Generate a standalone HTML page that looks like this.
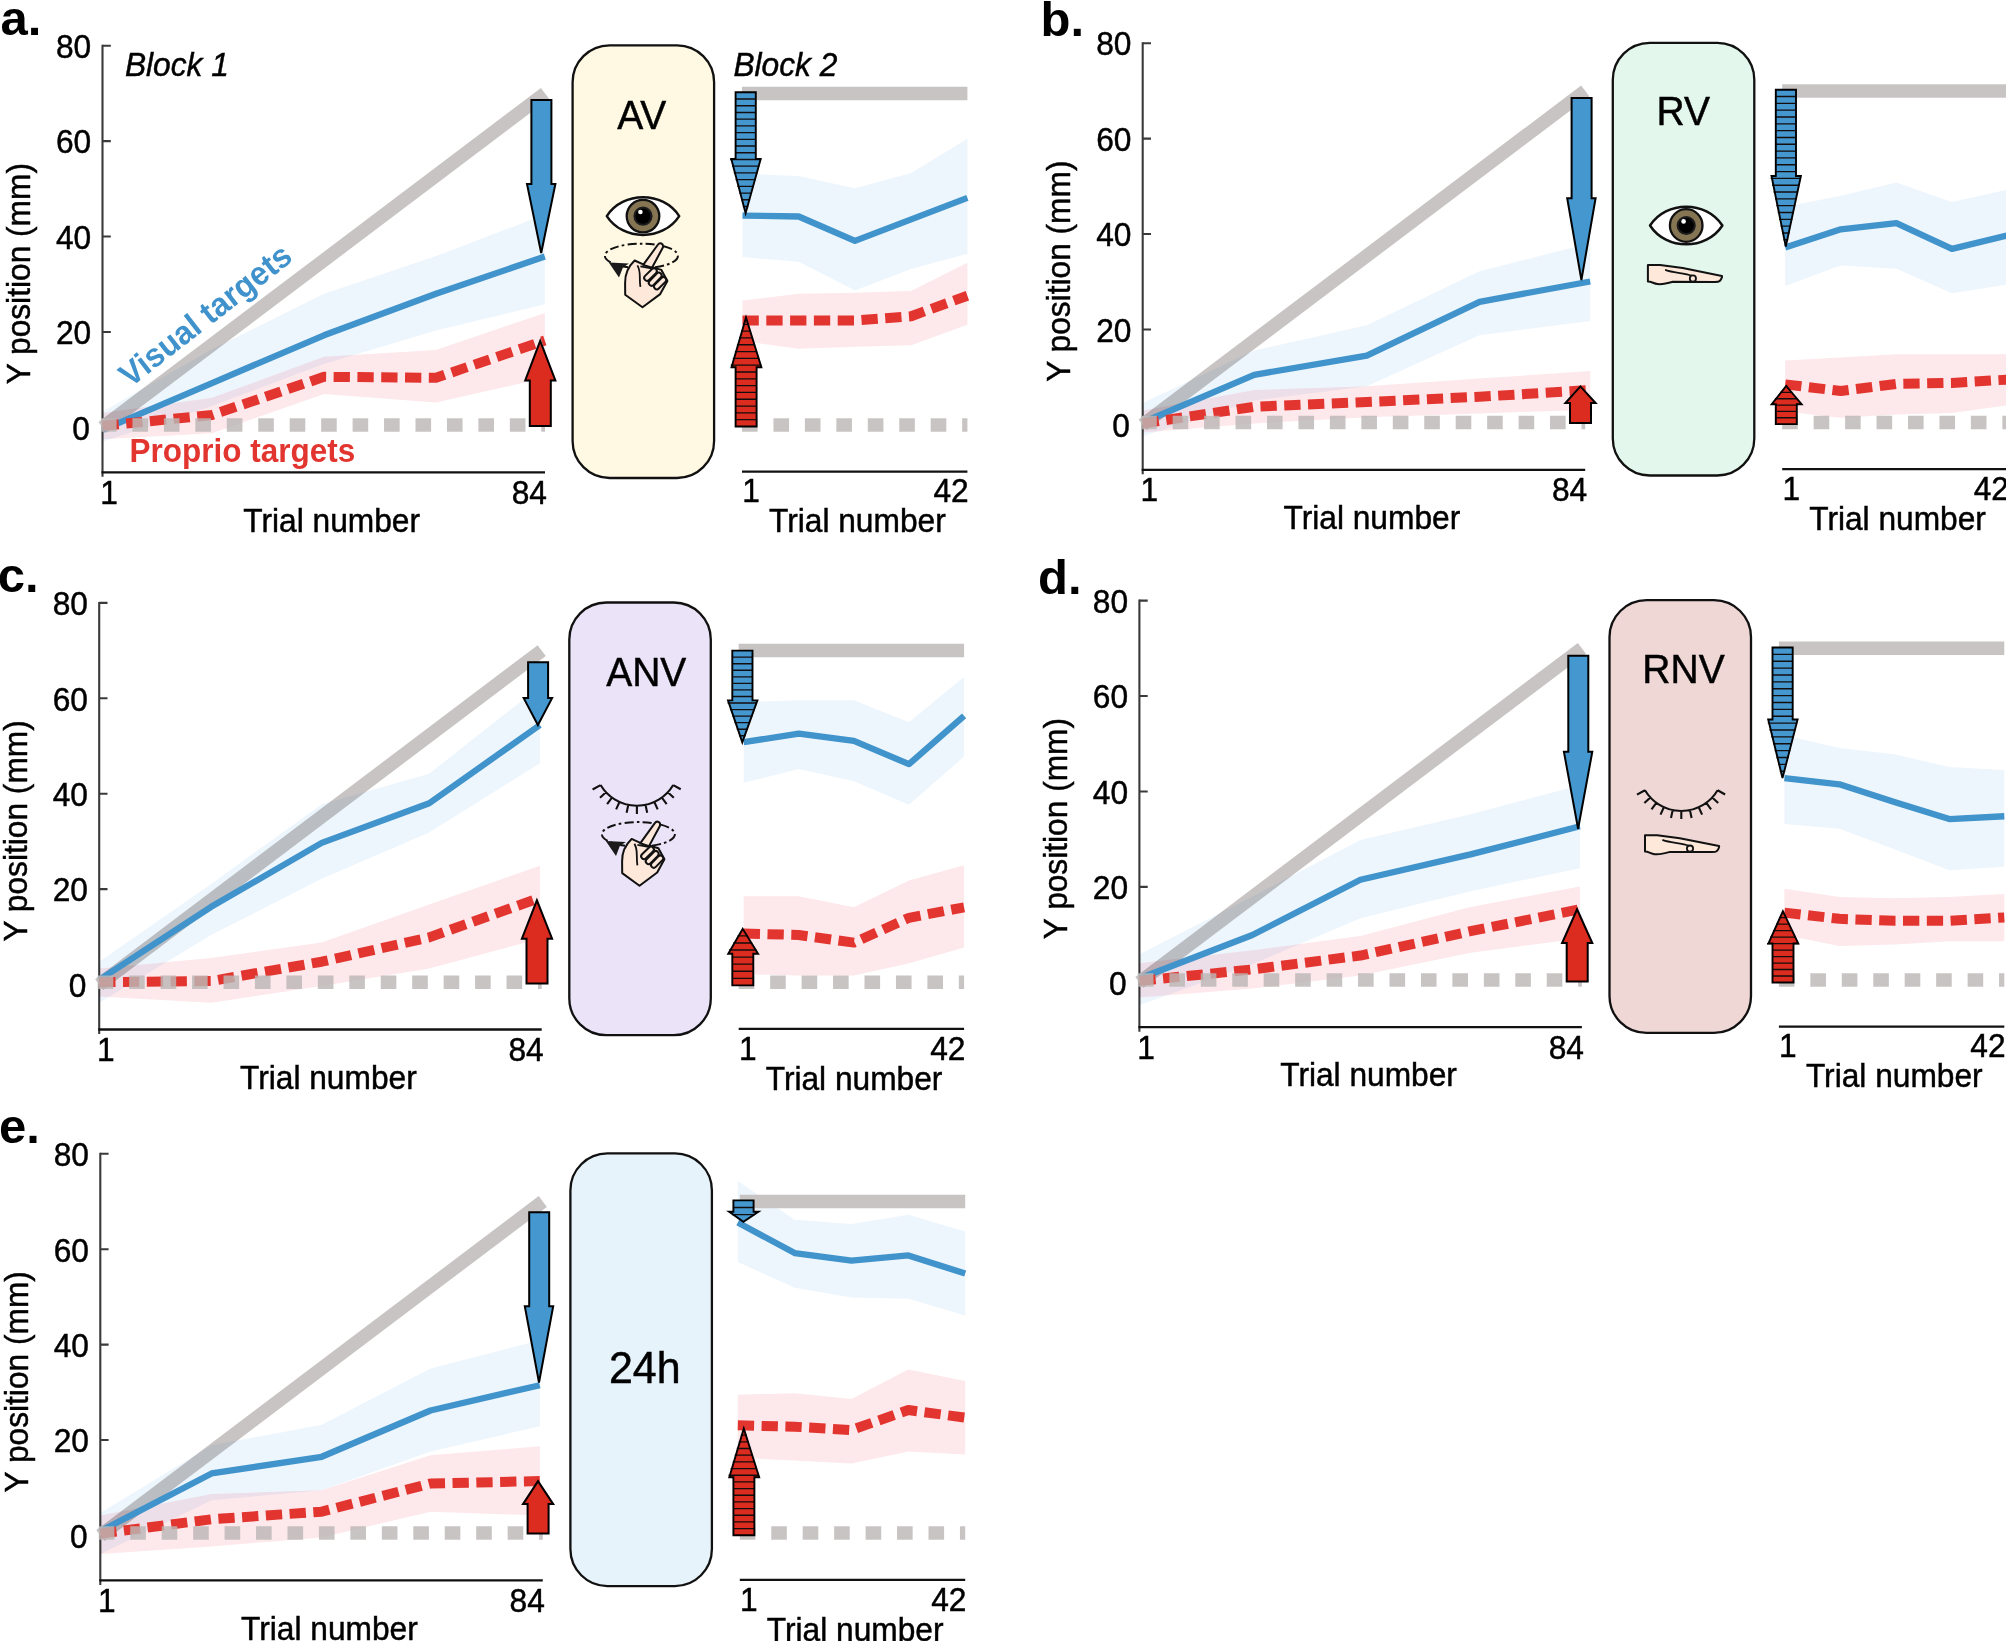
<!DOCTYPE html>
<html><head><meta charset="utf-8"><title>Figure</title>
<style>html,body{margin:0;padding:0;background:#fff;width:2006px;height:1641px;overflow:hidden}svg{display:block}text{font-family:'Liberation Sans', Arial, Helvetica, sans-serif;fill:#000}.t{stroke:#000;stroke-width:0.45px}</style>
</head><body>
<svg width="2006" height="1641" viewBox="0 0 2006 1641" style="isolation:isolate">
<rect width="2006" height="1641" fill="#fff"/>
<g transform="translate(0,0)">
<path d="M102.5,44.68 V476.8" stroke="#3a3a3a" stroke-width="2.1" fill="none"/>
<path d="M101.5,472.3 H545" stroke="#111111" stroke-width="2.3" fill="none"/>
<path d="M742,471.7 H967.4" stroke="#111111" stroke-width="2.3" fill="none"/>
<path d="M102.5,45.68 H110.8 M102.5,141.11 H110.8 M102.5,236.54 H110.8 M102.5,331.97 H110.8 M102.5,427.4 H110.8" stroke="#3a3a3a" stroke-width="2.1" fill="none"/>
<path d="M102.5,427.4 L545,93.39" stroke="#c8c4c3" stroke-width="13.5" fill="none"/>
<polygon points="102.5,411.65 212,349.15 324,293.8 436,256.1 544.8,214.59 544.8,304.3 436,330.54 324,363.94 212,405.93 102.5,441.71" fill="#eef6fd" style="mix-blend-mode:multiply"/>
<polygon points="102.5,413.09 212,397.82 324,356.78 436,350.1 544.8,312.88 544.8,377.78 436,402.59 324,394 212,433.13 102.5,439.33" fill="#fde8eb" style="mix-blend-mode:multiply"/>
<polygon points="742.5,173.56 798.73,175.94 854.95,188.35 911.17,173.08 967.4,138.72 967.4,253.72 911.17,268.99 854.95,290.46 798.73,261.83 742.5,257.06" fill="#eef6fd" style="mix-blend-mode:multiply"/>
<polygon points="742.5,300.48 798.73,293.8 854.95,292.84 911.17,290.94 967.4,262.78 967.4,324.81 911.17,345.33 854.95,346.76 798.73,348.67 742.5,341.04" fill="#fde8eb" style="mix-blend-mode:multiply"/>
<path d="M102.5,429.79 L212,383.03 L324,335.31 L436,293.8 L544.8,256.58" fill="none" stroke="#4093cb" stroke-width="6.3" stroke-linejoin="round"/>
<path d="M102.5,425.97 L212,414.99 L324,376.82 L436,377.78 L544.8,340.56" fill="none" stroke="#e3352f" stroke-width="10" stroke-linejoin="round" stroke-dasharray="16.3 7.5" stroke-dashoffset="0"/>
<path d="M742.5,215.55 L798.73,216.5 L854.95,240.83 L911.17,219.36 L967.4,197.89" fill="none" stroke="#4093cb" stroke-width="6.3" stroke-linejoin="round"/>
<path d="M742.5,320.52 L798.73,320.52 L854.95,320.52 L911.17,316.22 L967.4,295.71" fill="none" stroke="#e3352f" stroke-width="10" stroke-linejoin="round" stroke-dasharray="16.3 7.5" stroke-dashoffset="0"/>
<path d="M742,93.39 H967.4" stroke="#c8c4c3" stroke-width="13.5" fill="none"/>
<path d="M101,425 H545" stroke="#bcb7b6" stroke-opacity="0.82" stroke-width="13.5" stroke-dasharray="15.6 15.85" fill="none"/>
<path d="M742,425 H967.4" stroke="#bcb7b6" stroke-opacity="0.82" stroke-width="13.5" stroke-dasharray="15.6 15.85" fill="none"/>
<text transform="translate(91.2,57.98) scale(1,1.04)" font-size="31.7" text-anchor="end" class="t">80</text>
<text transform="translate(91.2,153.41) scale(1,1.04)" font-size="31.7" text-anchor="end" class="t">60</text>
<text transform="translate(91.2,248.84) scale(1,1.04)" font-size="31.7" text-anchor="end" class="t">40</text>
<text transform="translate(91.2,344.27) scale(1,1.04)" font-size="31.7" text-anchor="end" class="t">20</text>
<text transform="translate(89.8,439.7) scale(1,1.04)" font-size="31.7" text-anchor="end" class="t">0</text>
<text transform="translate(100.3,503.6) scale(1,1.04)" font-size="31.7" class="t">1</text>
<text transform="translate(547,503.6) scale(1,1.04)" font-size="31.7" text-anchor="end" class="t">84</text>
<text transform="translate(243.3,531.5) scale(1,1.04)" font-size="31.7" class="t">Trial number</text>
<text transform="translate(742.2,502.4) scale(1,1.04)" font-size="31.7" class="t">1</text>
<text transform="translate(968.7,502.4) scale(1,1.04)" font-size="31.7" text-anchor="end" class="t">42</text>
<text transform="translate(769,532.4) scale(1,1.04)" font-size="31.7" class="t">Trial number</text>
<text transform="translate(29.9,273.7) rotate(-90) scale(1,1.04)" font-size="31.7" text-anchor="middle" class="t">Y position (mm)</text>
<path d="M531.4,99.9 L551.4,99.9 L551.4,184 L555.4,184 L541.2,253 L527,184 L531.4,184 Z" fill="#4497cf" stroke="#000" stroke-width="2" stroke-linejoin="miter"/>
<path d="M529.8,425.9 L550.8,425.9 L550.8,380.5 L555.4,380.5 L540.2,340.9 L525.2,380.5 L529.8,380.5 Z" fill="#dc2b1f" stroke="#000" stroke-width="2" stroke-linejoin="miter"/>
<path d="M735.6,92.3 L755.8,92.3 L755.8,159 L760.7,159 L745.6,213.2 L731.3,159 L735.6,159 Z" fill="#4497cf"/>
<path d="M735.6,99.02 H755.8 M735.6,105.73 H755.8 M735.6,112.45 H755.8 M735.6,119.17 H755.8 M735.6,125.88 H755.8 M735.6,132.6 H755.8 M735.6,139.32 H755.8 M735.6,146.03 H755.8 M735.6,152.75 H755.8 M730.13,159.47 H761.07 M731.95,166.18 H759.25 M733.77,172.9 H757.43 M735.59,179.62 H755.61 M737.41,186.33 H753.79 M739.23,193.05 H751.97 M741.06,199.77 H750.14 M742.88,206.48 H748.32" stroke="#130d0d" stroke-width="1.35" fill="none"/>
<path d="M735.6,92.3 L755.8,92.3 L755.8,159 L760.7,159 L745.6,213.2 L731.3,159 L735.6,159 Z" fill="none" stroke="#000" stroke-width="1.9" stroke-linejoin="miter"/>
<path d="M735.6,426.5 L756.6,426.5 L756.6,367.3 L761.4,367.3 L746,317.5 L731.5,367.3 L735.6,367.3 Z" fill="#dc2b1f"/>
<path d="M735.6,419.69 H756.6 M735.6,412.88 H756.6 M735.6,406.06 H756.6 M735.6,399.25 H756.6 M735.6,392.44 H756.6 M735.6,385.62 H756.6 M735.6,378.81 H756.6 M735.6,372 H756.6 M730.78,365.19 H761.22 M732.83,358.38 H759.17 M734.87,351.56 H757.13 M736.92,344.75 H755.08 M738.96,337.94 H753.04 M741.01,331.12 H750.99 M743.05,324.31 H748.95" stroke="#130d0d" stroke-width="1.35" fill="none"/>
<path d="M735.6,426.5 L756.6,426.5 L756.6,367.3 L761.4,367.3 L746,317.5 L731.5,367.3 L735.6,367.3 Z" fill="none" stroke="#000" stroke-width="1.9" stroke-linejoin="miter"/>
<rect x="572.6" y="45.3" width="141.5" height="432.7" rx="37" ry="37" fill="#fff8e2" stroke="#111" stroke-width="2.3"/>
<text transform="translate(641.8,128.8) scale(1,1.04)" font-size="39" text-anchor="middle" class="t">AV</text>
</g>
<g transform="translate(1040.2,-2.5)">
<path d="M102.5,44.68 V476.8" stroke="#3a3a3a" stroke-width="2.1" fill="none"/>
<path d="M101.5,472.3 H545" stroke="#111111" stroke-width="2.3" fill="none"/>
<path d="M742,471.7 H967.4" stroke="#111111" stroke-width="2.3" fill="none"/>
<path d="M102.5,45.68 H110.8 M102.5,141.11 H110.8 M102.5,236.54 H110.8 M102.5,331.97 H110.8 M102.5,427.4 H110.8" stroke="#3a3a3a" stroke-width="2.1" fill="none"/>
<path d="M102.5,427.4 L545,93.39" stroke="#c8c4c3" stroke-width="13.5" fill="none"/>
<polygon points="102.5,405.45 214,352.96 326.6,327.68 439.3,273.76 550,245.61 550,323.38 439.3,337.7 326.6,388.75 214,403.07 102.5,438.85" fill="#eef6fd" style="mix-blend-mode:multiply"/>
<polygon points="102.5,413.09 214,392.57 326.6,388.75 439.3,381.12 550,373.48 550,412.13 439.3,415.95 326.6,419.77 214,425.97 102.5,435.03" fill="#fde8eb" style="mix-blend-mode:multiply"/>
<polygon points="745,209.34 800.6,198.37 856.2,185.01 911.8,204.57 967.4,192.17 967.4,287.12 911.8,295.71 856.2,271.37 800.6,268.03 745,288.55" fill="#eef6fd" style="mix-blend-mode:multiply"/>
<polygon points="745,362.98 800.6,360.12 856.2,356.78 911.8,356.78 967.4,356.78 967.4,407.84 911.8,415.47 856.2,416.9 800.6,420.24 745,414.04" fill="#fde8eb" style="mix-blend-mode:multiply"/>
<path d="M102.5,425.01 L214,377.3 L326.6,358.21 L439.3,304.3 L550,284.02" fill="none" stroke="#4093cb" stroke-width="6.3" stroke-linejoin="round"/>
<path d="M102.5,425.97 L214,409.27 L326.6,404.5 L439.3,399.25 L550,392.57" fill="none" stroke="#e3352f" stroke-width="10" stroke-linejoin="round" stroke-dasharray="16.3 7.5" stroke-dashoffset="0"/>
<path d="M745,249.9 L800.6,231.77 L856.2,225.57 L911.8,251.33 L967.4,237.97" fill="none" stroke="#4093cb" stroke-width="6.3" stroke-linejoin="round"/>
<path d="M745,386.84 L800.6,393.52 L856.2,386.37 L911.8,385.41 L967.4,382.07" fill="none" stroke="#e3352f" stroke-width="10" stroke-linejoin="round" stroke-dasharray="16.3 7.5" stroke-dashoffset="0"/>
<path d="M742,93.39 H967.4" stroke="#c8c4c3" stroke-width="13.5" fill="none"/>
<path d="M101,425 H545" stroke="#bcb7b6" stroke-opacity="0.82" stroke-width="13.5" stroke-dasharray="15.6 15.85" fill="none"/>
<path d="M742,425 H967.4" stroke="#bcb7b6" stroke-opacity="0.82" stroke-width="13.5" stroke-dasharray="15.6 15.85" fill="none"/>
<text transform="translate(91.2,57.98) scale(1,1.04)" font-size="31.7" text-anchor="end" class="t">80</text>
<text transform="translate(91.2,153.41) scale(1,1.04)" font-size="31.7" text-anchor="end" class="t">60</text>
<text transform="translate(91.2,248.84) scale(1,1.04)" font-size="31.7" text-anchor="end" class="t">40</text>
<text transform="translate(91.2,344.27) scale(1,1.04)" font-size="31.7" text-anchor="end" class="t">20</text>
<text transform="translate(89.8,439.7) scale(1,1.04)" font-size="31.7" text-anchor="end" class="t">0</text>
<text transform="translate(100.3,503.6) scale(1,1.04)" font-size="31.7" class="t">1</text>
<text transform="translate(547,503.6) scale(1,1.04)" font-size="31.7" text-anchor="end" class="t">84</text>
<text transform="translate(243.3,531.5) scale(1,1.04)" font-size="31.7" class="t">Trial number</text>
<text transform="translate(742.2,502.4) scale(1,1.04)" font-size="31.7" class="t">1</text>
<text transform="translate(968.7,502.4) scale(1,1.04)" font-size="31.7" text-anchor="end" class="t">42</text>
<text transform="translate(769,532.4) scale(1,1.04)" font-size="31.7" class="t">Trial number</text>
<text transform="translate(29.9,273.7) rotate(-90) scale(1,1.04)" font-size="31.7" text-anchor="middle" class="t">Y position (mm)</text>
<path d="M531.4,100.4 L551.4,100.4 L551.4,200.7 L555.4,200.7 L541.2,282.7 L527,200.7 L531.4,200.7 Z" fill="#4497cf" stroke="#000" stroke-width="2" stroke-linejoin="miter"/>
<path d="M529.8,425.5 L550.8,425.5 L550.8,405.5 L555.4,405.5 L540.2,388.9 L525.2,405.5 L529.8,405.5 Z" fill="#dc2b1f" stroke="#000" stroke-width="2" stroke-linejoin="miter"/>
<path d="M735.6,92.2 L755.8,92.2 L755.8,178.5 L760.7,178.5 L745.6,249.1 L731.3,178.5 L735.6,178.5 Z" fill="#4497cf"/>
<path d="M735.6,99.02 H755.8 M735.6,105.84 H755.8 M735.6,112.67 H755.8 M735.6,119.49 H755.8 M735.6,126.31 H755.8 M735.6,133.13 H755.8 M735.6,139.95 H755.8 M735.6,146.77 H755.8 M735.6,153.6 H755.8 M735.6,160.42 H755.8 M735.6,167.24 H755.8 M735.6,174.06 H755.8 M730.5,180.88 H760.7 M731.92,187.7 H759.28 M733.34,194.53 H757.86 M734.76,201.35 H756.44 M736.18,208.17 H755.02 M737.6,214.99 H753.6 M739.02,221.81 H752.18 M740.44,228.63 H750.76 M741.86,235.46 H749.34 M743.28,242.28 H747.92" stroke="#130d0d" stroke-width="1.35" fill="none"/>
<path d="M735.6,92.2 L755.8,92.2 L755.8,178.5 L760.7,178.5 L745.6,249.1 L731.3,178.5 L735.6,178.5 Z" fill="none" stroke="#000" stroke-width="1.9" stroke-linejoin="miter"/>
<path d="M735.6,426.6 L756.6,426.6 L756.6,406.7 L761.4,406.7 L746,388.5 L731.5,406.7 L735.6,406.7 Z" fill="#dc2b1f"/>
<path d="M735.6,420.25 H756.6 M735.6,413.9 H756.6 M735.6,407.55 H756.6 M734.67,401.2 H757.33 M739.88,394.85 H752.12" stroke="#130d0d" stroke-width="1.35" fill="none"/>
<path d="M735.6,426.6 L756.6,426.6 L756.6,406.7 L761.4,406.7 L746,388.5 L731.5,406.7 L735.6,406.7 Z" fill="none" stroke="#000" stroke-width="1.9" stroke-linejoin="miter"/>
<rect x="572.6" y="45.3" width="141.5" height="432.7" rx="37" ry="37" fill="#e3f7ec" stroke="#111" stroke-width="2.3"/>
<text transform="translate(643,127.7) scale(1,1.04)" font-size="39" text-anchor="middle" class="t">RV</text>
</g>
<g transform="translate(-3.3,557.2)">
<path d="M102.5,44.68 V476.8" stroke="#3a3a3a" stroke-width="2.1" fill="none"/>
<path d="M101.5,472.3 H545" stroke="#111111" stroke-width="2.3" fill="none"/>
<path d="M742,471.7 H967.4" stroke="#111111" stroke-width="2.3" fill="none"/>
<path d="M102.5,45.68 H110.8 M102.5,141.11 H110.8 M102.5,236.54 H110.8 M102.5,331.97 H110.8 M102.5,427.4 H110.8" stroke="#3a3a3a" stroke-width="2.1" fill="none"/>
<path d="M102.5,427.4 L545,93.39" stroke="#c8c4c3" stroke-width="13.5" fill="none"/>
<polygon points="102.5,404.5 214.5,326.72 325,247.04 432.5,216.5 543.2,129.18 543.2,206 432.5,275.19 325,321.47 214.5,377.78 102.5,445.53" fill="#eef6fd" style="mix-blend-mode:multiply"/>
<polygon points="102.5,411.18 214.5,400.68 325,385.41 432.5,347.24 543.2,308.59 543.2,381.59 432.5,411.18 325,428.83 214.5,445.53 102.5,439.33" fill="#fde8eb" style="mix-blend-mode:multiply"/>
<polygon points="747,144.93 802.1,143.02 857.2,143.02 912.3,164.97 967.4,119.64 967.4,199.32 912.3,247.51 857.2,224.13 802.1,211.73 747,225.57" fill="#eef6fd" style="mix-blend-mode:multiply"/>
<polygon points="747,339.13 802.1,339.13 857.2,350.1 912.3,323.38 967.4,308.11 967.4,390.18 912.3,405.93 857.2,418.33 802.1,418.33 747,416.9" fill="#fde8eb" style="mix-blend-mode:multiply"/>
<path d="M102.5,422.63 L214.5,349.62 L325,285.69 L432.5,246.08 L543.2,167.83" fill="none" stroke="#4093cb" stroke-width="6.3" stroke-linejoin="round"/>
<path d="M102.5,425.01 L214.5,423.82 L325,404.5 L432.5,380.16 L543.2,340.56" fill="none" stroke="#e3352f" stroke-width="10" stroke-linejoin="round" stroke-dasharray="16.3 7.5" stroke-dashoffset="0"/>
<path d="M747,185.01 L802.1,176.42 L857.2,183.58 L912.3,206.96 L967.4,158.76" fill="none" stroke="#4093cb" stroke-width="6.3" stroke-linejoin="round"/>
<path d="M747,376.34 L802.1,377.78 L857.2,385.41 L912.3,360.6 L967.4,350.1" fill="none" stroke="#e3352f" stroke-width="10" stroke-linejoin="round" stroke-dasharray="16.3 7.5" stroke-dashoffset="0"/>
<path d="M742,93.39 H967.4" stroke="#c8c4c3" stroke-width="13.5" fill="none"/>
<path d="M101,425 H545" stroke="#bcb7b6" stroke-opacity="0.82" stroke-width="13.5" stroke-dasharray="15.6 15.85" fill="none"/>
<path d="M742,425 H967.4" stroke="#bcb7b6" stroke-opacity="0.82" stroke-width="13.5" stroke-dasharray="15.6 15.85" fill="none"/>
<text transform="translate(91.2,57.98) scale(1,1.04)" font-size="31.7" text-anchor="end" class="t">80</text>
<text transform="translate(91.2,153.41) scale(1,1.04)" font-size="31.7" text-anchor="end" class="t">60</text>
<text transform="translate(91.2,248.84) scale(1,1.04)" font-size="31.7" text-anchor="end" class="t">40</text>
<text transform="translate(91.2,344.27) scale(1,1.04)" font-size="31.7" text-anchor="end" class="t">20</text>
<text transform="translate(89.8,439.7) scale(1,1.04)" font-size="31.7" text-anchor="end" class="t">0</text>
<text transform="translate(100.3,503.6) scale(1,1.04)" font-size="31.7" class="t">1</text>
<text transform="translate(547,503.6) scale(1,1.04)" font-size="31.7" text-anchor="end" class="t">84</text>
<text transform="translate(243.3,531.5) scale(1,1.04)" font-size="31.7" class="t">Trial number</text>
<text transform="translate(742.2,502.4) scale(1,1.04)" font-size="31.7" class="t">1</text>
<text transform="translate(968.7,502.4) scale(1,1.04)" font-size="31.7" text-anchor="end" class="t">42</text>
<text transform="translate(769,532.4) scale(1,1.04)" font-size="31.7" class="t">Trial number</text>
<text transform="translate(29.9,273.7) rotate(-90) scale(1,1.04)" font-size="31.7" text-anchor="middle" class="t">Y position (mm)</text>
<path d="M531.4,105 L551.4,105 L551.4,140.9 L555.4,140.9 L541.2,167.8 L527,140.9 L531.4,140.9 Z" fill="#4497cf" stroke="#000" stroke-width="2" stroke-linejoin="miter"/>
<path d="M529.8,426.3 L550.8,426.3 L550.8,381.5 L555.4,381.5 L540.2,343.1 L525.2,381.5 L529.8,381.5 Z" fill="#dc2b1f" stroke="#000" stroke-width="2" stroke-linejoin="miter"/>
<path d="M735.6,93.4 L755.8,93.4 L755.8,143.2 L760.7,143.2 L745.6,185.1 L731.3,143.2 L735.6,143.2 Z" fill="#4497cf"/>
<path d="M735.6,99.95 H755.8 M735.6,106.5 H755.8 M735.6,113.05 H755.8 M735.6,119.6 H755.8 M735.6,126.15 H755.8 M735.6,132.7 H755.8 M735.6,139.25 H755.8 M730.91,145.8 H760.29 M733.21,152.35 H757.99 M735.51,158.9 H755.69 M737.81,165.45 H753.39 M740.1,172 H751.1 M742.4,178.55 H748.8" stroke="#130d0d" stroke-width="1.35" fill="none"/>
<path d="M735.6,93.4 L755.8,93.4 L755.8,143.2 L760.7,143.2 L745.6,185.1 L731.3,143.2 L735.6,143.2 Z" fill="none" stroke="#000" stroke-width="1.9" stroke-linejoin="miter"/>
<path d="M735.6,428.2 L756.6,428.2 L756.6,396.5 L761.4,396.5 L746,371.6 L731.5,396.5 L735.6,396.5 Z" fill="#dc2b1f"/>
<path d="M735.6,421.12 H756.6 M735.6,414.05 H756.6 M735.6,406.98 H756.6 M735.6,399.9 H756.6 M732.36,392.82 H759.64 M736.6,385.75 H755.4 M740.85,378.68 H751.15" stroke="#130d0d" stroke-width="1.35" fill="none"/>
<path d="M735.6,428.2 L756.6,428.2 L756.6,396.5 L761.4,396.5 L746,371.6 L731.5,396.5 L735.6,396.5 Z" fill="none" stroke="#000" stroke-width="1.9" stroke-linejoin="miter"/>
<rect x="572.6" y="45.3" width="141.5" height="432.7" rx="37" ry="37" fill="#ebe3f8" stroke="#111" stroke-width="2.3"/>
<text transform="translate(649.5,128.5) scale(1,1.04)" font-size="39" text-anchor="middle" class="t">ANV</text>
</g>
<g transform="translate(1036.9,554.9)">
<path d="M102.5,44.68 V476.8" stroke="#3a3a3a" stroke-width="2.1" fill="none"/>
<path d="M101.5,472.3 H545" stroke="#111111" stroke-width="2.3" fill="none"/>
<path d="M742,471.7 H967.4" stroke="#111111" stroke-width="2.3" fill="none"/>
<path d="M102.5,45.68 H110.8 M102.5,141.11 H110.8 M102.5,236.54 H110.8 M102.5,331.97 H110.8 M102.5,427.4 H110.8" stroke="#3a3a3a" stroke-width="2.1" fill="none"/>
<path d="M102.5,427.4 L545,93.39" stroke="#c8c4c3" stroke-width="13.5" fill="none"/>
<polygon points="102.5,399.25 215.5,341.51 323.5,285.21 433.6,259.44 543,230.34 543,313.36 433.6,336.26 323.5,363.46 215.5,409.27 102.5,450.3" fill="#eef6fd" style="mix-blend-mode:multiply"/>
<polygon points="102.5,408.31 215.5,395.43 323.5,381.12 433.6,352.01 543,331.49 543,383.5 433.6,397.82 323.5,420.72 215.5,433.6 102.5,442.67" fill="#fde8eb" style="mix-blend-mode:multiply"/>
<polygon points="747.5,180.24 802.48,193.12 857.45,199.32 912.42,212.21 967.4,215.07 967.4,311.93 912.42,315.27 857.45,294.28 802.48,273.76 747.5,268.99" fill="#eef6fd" style="mix-blend-mode:multiply"/>
<polygon points="747.5,333.88 802.48,341.99 857.45,343.42 912.42,341.99 967.4,339.13 967.4,386.37 912.42,386.37 857.45,389.71 802.48,391.14 747.5,380.16" fill="#fde8eb" style="mix-blend-mode:multiply"/>
<path d="M102.5,423.58 L215.5,380.16 L323.5,324.81 L433.6,299.52 L543,271.37" fill="none" stroke="#4093cb" stroke-width="6.3" stroke-linejoin="round"/>
<path d="M102.5,425.97 L215.5,414.52 L323.5,400.68 L433.6,376.34 L543,354.4" fill="none" stroke="#e3352f" stroke-width="10" stroke-linejoin="round" stroke-dasharray="16.3 7.5" stroke-dashoffset="0"/>
<path d="M747.5,223.18 L802.48,229.38 L857.45,247.04 L912.42,264.21 L967.4,261.35" fill="none" stroke="#4093cb" stroke-width="6.3" stroke-linejoin="round"/>
<path d="M747.5,357.74 L802.48,363.94 L857.45,365.85 L912.42,365.85 L967.4,362.51" fill="none" stroke="#e3352f" stroke-width="10" stroke-linejoin="round" stroke-dasharray="16.3 7.5" stroke-dashoffset="0"/>
<path d="M742,93.39 H967.4" stroke="#c8c4c3" stroke-width="13.5" fill="none"/>
<path d="M101,425 H545" stroke="#bcb7b6" stroke-opacity="0.82" stroke-width="13.5" stroke-dasharray="15.6 15.85" fill="none"/>
<path d="M742,425 H967.4" stroke="#bcb7b6" stroke-opacity="0.82" stroke-width="13.5" stroke-dasharray="15.6 15.85" fill="none"/>
<text transform="translate(91.2,57.98) scale(1,1.04)" font-size="31.7" text-anchor="end" class="t">80</text>
<text transform="translate(91.2,153.41) scale(1,1.04)" font-size="31.7" text-anchor="end" class="t">60</text>
<text transform="translate(91.2,248.84) scale(1,1.04)" font-size="31.7" text-anchor="end" class="t">40</text>
<text transform="translate(91.2,344.27) scale(1,1.04)" font-size="31.7" text-anchor="end" class="t">20</text>
<text transform="translate(89.8,439.7) scale(1,1.04)" font-size="31.7" text-anchor="end" class="t">0</text>
<text transform="translate(100.3,503.6) scale(1,1.04)" font-size="31.7" class="t">1</text>
<text transform="translate(547,503.6) scale(1,1.04)" font-size="31.7" text-anchor="end" class="t">84</text>
<text transform="translate(243.3,531.5) scale(1,1.04)" font-size="31.7" class="t">Trial number</text>
<text transform="translate(742.2,502.4) scale(1,1.04)" font-size="31.7" class="t">1</text>
<text transform="translate(968.7,502.4) scale(1,1.04)" font-size="31.7" text-anchor="end" class="t">42</text>
<text transform="translate(769,532.4) scale(1,1.04)" font-size="31.7" class="t">Trial number</text>
<text transform="translate(29.9,273.7) rotate(-90) scale(1,1.04)" font-size="31.7" text-anchor="middle" class="t">Y position (mm)</text>
<path d="M531.4,100.9 L551.4,100.9 L551.4,196.9 L555.4,196.9 L541.2,273.8 L527,196.9 L531.4,196.9 Z" fill="#4497cf" stroke="#000" stroke-width="2" stroke-linejoin="miter"/>
<path d="M529.8,426.6 L550.8,426.6 L550.8,388.2 L555.4,388.2 L540.2,354.4 L525.2,388.2 L529.8,388.2 Z" fill="#dc2b1f" stroke="#000" stroke-width="2" stroke-linejoin="miter"/>
<path d="M735.6,92.6 L755.8,92.6 L755.8,164.6 L760.7,164.6 L745.6,223.2 L731.3,164.6 L735.6,164.6 Z" fill="#4497cf"/>
<path d="M735.6,99.47 H755.8 M735.6,106.35 H755.8 M735.6,113.22 H755.8 M735.6,120.09 H755.8 M735.6,126.97 H755.8 M735.6,133.84 H755.8 M735.6,140.72 H755.8 M735.6,147.59 H755.8 M735.6,154.46 H755.8 M735.6,161.34 H755.8 M730.91,168.21 H760.29 M732.63,175.08 H758.57 M734.35,181.96 H756.85 M736.08,188.83 H755.12 M737.8,195.71 H753.4 M739.53,202.58 H751.67 M741.25,209.45 H749.95 M742.98,216.33 H748.22" stroke="#130d0d" stroke-width="1.35" fill="none"/>
<path d="M735.6,92.6 L755.8,92.6 L755.8,164.6 L760.7,164.6 L745.6,223.2 L731.3,164.6 L735.6,164.6 Z" fill="none" stroke="#000" stroke-width="1.9" stroke-linejoin="miter"/>
<path d="M735.6,427.6 L756.6,427.6 L756.6,388.6 L761.4,388.6 L746,356.3 L731.5,388.6 L735.6,388.6 Z" fill="#dc2b1f"/>
<path d="M735.6,421.12 H756.6 M735.6,414.64 H756.6 M735.6,408.15 H756.6 M735.6,401.67 H756.6 M735.6,395.19 H756.6 M730.1,388.71 H761.9 M733.1,382.23 H758.9 M736.1,375.75 H755.9 M739.1,369.26 H752.9 M742.1,362.78 H749.9" stroke="#130d0d" stroke-width="1.35" fill="none"/>
<path d="M735.6,427.6 L756.6,427.6 L756.6,388.6 L761.4,388.6 L746,356.3 L731.5,388.6 L735.6,388.6 Z" fill="none" stroke="#000" stroke-width="1.9" stroke-linejoin="miter"/>
<rect x="572.6" y="45.3" width="141.5" height="432.7" rx="37" ry="37" fill="#eed7d5" stroke="#111" stroke-width="2.3"/>
<text transform="translate(646.6,128.1) scale(1,1.04)" font-size="39" text-anchor="middle" class="t">RNV</text>
</g>
<g transform="translate(-2.2,1108.1)">
<path d="M102.5,44.68 V476.8" stroke="#3a3a3a" stroke-width="2.1" fill="none"/>
<path d="M101.5,472.3 H545" stroke="#111111" stroke-width="2.3" fill="none"/>
<path d="M742,471.7 H967.4" stroke="#111111" stroke-width="2.3" fill="none"/>
<path d="M102.5,45.68 H110.8 M102.5,141.11 H110.8 M102.5,236.54 H110.8 M102.5,331.97 H110.8 M102.5,427.4 H110.8" stroke="#3a3a3a" stroke-width="2.1" fill="none"/>
<path d="M102.5,427.4 L545,93.39" stroke="#c8c4c3" stroke-width="13.5" fill="none"/>
<polygon points="102.5,404.97 213.8,337.22 323.9,316.7 432.7,260.4 542,232.25 542,318.13 432.7,343.42 323.9,382.07 213.8,392.09 102.5,446.01" fill="#eef6fd" style="mix-blend-mode:multiply"/>
<polygon points="102.5,407.36 213.8,385.89 323.9,382.07 432.7,347.24 542,338.17 542,407.36 432.7,403.54 323.9,429.31 213.8,438.37 102.5,446.01" fill="#fde8eb" style="mix-blend-mode:multiply"/>
<polygon points="740,72.88 796.85,111.53 853.7,115.82 910.55,106.76 967.4,123.46 967.4,207.43 910.55,190.73 853.7,189.3 796.85,179.76 740,153.99" fill="#eef6fd" style="mix-blend-mode:multiply"/>
<polygon points="740,286.64 796.85,285.21 853.7,290.94 910.55,261.35 967.4,272.8 967.4,346.28 910.55,343.42 853.7,355.35 796.85,352.49 740,349.62" fill="#fde8eb" style="mix-blend-mode:multiply"/>
<path d="M102.5,423.11 L213.8,365.37 L323.9,348.67 L432.7,302.39 L542,277.1" fill="none" stroke="#4093cb" stroke-width="6.3" stroke-linejoin="round"/>
<path d="M102.5,425.49 L213.8,411.18 L323.9,403.54 L432.7,375.39 L542,373" fill="none" stroke="#e3352f" stroke-width="10" stroke-linejoin="round" stroke-dasharray="16.3 7.5" stroke-dashoffset="0"/>
<path d="M740,114.39 L796.85,144.93 L853.7,152.56 L910.55,147.31 L967.4,165.44" fill="none" stroke="#4093cb" stroke-width="6.3" stroke-linejoin="round"/>
<path d="M740,317.18 L796.85,318.61 L853.7,321.95 L910.55,301.91 L967.4,309.54" fill="none" stroke="#e3352f" stroke-width="10" stroke-linejoin="round" stroke-dasharray="16.3 7.5" stroke-dashoffset="0"/>
<path d="M742,93.39 H967.4" stroke="#c8c4c3" stroke-width="13.5" fill="none"/>
<path d="M101,425 H545" stroke="#bcb7b6" stroke-opacity="0.82" stroke-width="13.5" stroke-dasharray="15.6 15.85" fill="none"/>
<path d="M742,425 H967.4" stroke="#bcb7b6" stroke-opacity="0.82" stroke-width="13.5" stroke-dasharray="15.6 15.85" fill="none"/>
<text transform="translate(91.2,57.98) scale(1,1.04)" font-size="31.7" text-anchor="end" class="t">80</text>
<text transform="translate(91.2,153.41) scale(1,1.04)" font-size="31.7" text-anchor="end" class="t">60</text>
<text transform="translate(91.2,248.84) scale(1,1.04)" font-size="31.7" text-anchor="end" class="t">40</text>
<text transform="translate(91.2,344.27) scale(1,1.04)" font-size="31.7" text-anchor="end" class="t">20</text>
<text transform="translate(89.8,439.7) scale(1,1.04)" font-size="31.7" text-anchor="end" class="t">0</text>
<text transform="translate(100.3,503.6) scale(1,1.04)" font-size="31.7" class="t">1</text>
<text transform="translate(547,503.6) scale(1,1.04)" font-size="31.7" text-anchor="end" class="t">84</text>
<text transform="translate(243.3,531.5) scale(1,1.04)" font-size="31.7" class="t">Trial number</text>
<text transform="translate(742.2,502.4) scale(1,1.04)" font-size="31.7" class="t">1</text>
<text transform="translate(968.7,502.4) scale(1,1.04)" font-size="31.7" text-anchor="end" class="t">42</text>
<text transform="translate(769,532.4) scale(1,1.04)" font-size="31.7" class="t">Trial number</text>
<text transform="translate(29.9,273.7) rotate(-90) scale(1,1.04)" font-size="31.7" text-anchor="middle" class="t">Y position (mm)</text>
<path d="M531.4,104.1 L551.4,104.1 L551.4,198.1 L555.4,198.1 L541.2,274.4 L527,198.1 L531.4,198.1 Z" fill="#4497cf" stroke="#000" stroke-width="2" stroke-linejoin="miter"/>
<path d="M529.8,425.4 L550.8,425.4 L550.8,396 L555.4,396 L540.2,373 L525.2,396 L529.8,396 Z" fill="#dc2b1f" stroke="#000" stroke-width="2" stroke-linejoin="miter"/>
<path d="M735.6,92.3 L755.8,92.3 L755.8,103.6 L760.7,103.6 L745.6,113.7 L731.3,103.6 L735.6,103.6 Z" fill="#4497cf"/>
<path d="M735.6,99.43 H755.8 M734.32,106.57 H756.88" stroke="#130d0d" stroke-width="1.35" fill="none"/>
<path d="M735.6,92.3 L755.8,92.3 L755.8,103.6 L760.7,103.6 L745.6,113.7 L731.3,103.6 L735.6,103.6 Z" fill="none" stroke="#000" stroke-width="1.9" stroke-linejoin="miter"/>
<path d="M735.6,427.2 L756.6,427.2 L756.6,369.2 L761.4,369.2 L746,320.4 L731.5,369.2 L735.6,369.2 Z" fill="#dc2b1f"/>
<path d="M735.6,420.52 H756.6 M735.6,413.85 H756.6 M735.6,407.18 H756.6 M735.6,400.5 H756.6 M735.6,393.82 H756.6 M735.6,387.15 H756.6 M735.6,380.47 H756.6 M735.6,373.8 H756.6 M730.79,367.12 H761.21 M732.83,360.45 H759.17 M734.88,353.77 H757.12 M736.92,347.1 H755.08 M738.97,340.42 H753.03 M741.01,333.75 H750.99 M743.06,327.07 H748.94" stroke="#130d0d" stroke-width="1.35" fill="none"/>
<path d="M735.6,427.2 L756.6,427.2 L756.6,369.2 L761.4,369.2 L746,320.4 L731.5,369.2 L735.6,369.2 Z" fill="none" stroke="#000" stroke-width="1.9" stroke-linejoin="miter"/>
<rect x="572.6" y="45.3" width="141.5" height="432.7" rx="37" ry="37" fill="#e6f3fb" stroke="#111" stroke-width="2.3"/>
<text transform="translate(647,274.6) scale(1,1.04)" font-size="43" text-anchor="middle" class="t">24h</text>
</g>
<text x="0.5" y="34.5" font-size="49" font-weight="bold">a.</text>
<text x="1040.6" y="35.9" font-size="49" font-weight="bold">b.</text>
<text x="-2.3" y="592" font-size="49" font-weight="bold">c.</text>
<text x="1038" y="593.7" font-size="49" font-weight="bold">d.</text>
<text x="-1" y="1143.1" font-size="49" font-weight="bold">e.</text>
<text transform="translate(124.9,76) scale(1,1.04)" font-size="31.7" class="t" font-style="italic">Block 1</text>
<text transform="translate(733.4,75.7) scale(1,1.04)" font-size="31.7" class="t" font-style="italic">Block 2</text>
<text transform="translate(130.3,387.9) rotate(-38) scale(1,1.04)" font-size="31.8" font-weight="bold" style="fill:#3f92cb">Visual targets</text>
<text transform="translate(129.6,461.8) scale(1,1.04)" font-size="31.5" font-weight="bold" style="fill:#e3352f">Proprio targets</text>
<g>
<path d="M606.8,216.1 C623.09,190.96 662.91,190.96 679.2,216.1 C662.91,241.24 623.09,241.24 606.8,216.1 Z" fill="#fff" stroke="#111" stroke-width="2.5" stroke-linejoin="round"/>
<circle cx="643" cy="216.1" r="16.3" fill="#857553" stroke="#111" stroke-width="2.3"/>
<circle cx="643" cy="216.1" r="8.6" fill="#000" stroke="#1c1c1c" stroke-width="2"/>
<circle cx="640.4" cy="212" r="2.3" fill="#fff"/>
</g>
<g stroke-linejoin="round">
<ellipse cx="641.4" cy="255.9" rx="36.5" ry="12.2" fill="none" stroke="#111" stroke-width="2" stroke-dasharray="9 3.2 2.6 3.2"/>
<path d="M608.8,262.5 L628.8,263.5 L622.8,267.7 L619,277.5 Z" fill="#1a1a1a"/>
<path d="M634.6,260.5 C628.9,265.9 624.9,273.9 625.1,282.9 L625.2,294.7 L642.5,307.3 L660.2,294.1 L667.4,280.9 L661.4,269.9 L644.4,264.9 Z" fill="#fde8da" stroke="#111" stroke-width="2"/>
<path d="M643.2,264.9 L658,244.5 C659.6,242.1 663.8,243.3 663,247.3 L652,267.7 Z" fill="#fde8da" stroke="#111" stroke-width="2"/>
<path d="M647,277.9 L654,271.1" stroke="#111" stroke-width="7.6" stroke-linecap="round"/>
<path d="M647,277.9 L654,271.1" stroke="#fde8da" stroke-width="3.6" stroke-linecap="round"/>
<path d="M651.6,282.9 L658.8,275.5" stroke="#111" stroke-width="7.6" stroke-linecap="round"/>
<path d="M651.6,282.9 L658.8,275.5" stroke="#fde8da" stroke-width="3.6" stroke-linecap="round"/>
<path d="M656.8,286.5 L663.4,279.9" stroke="#111" stroke-width="7.6" stroke-linecap="round"/>
<path d="M656.8,286.5 L663.4,279.9" stroke="#fde8da" stroke-width="3.6" stroke-linecap="round"/>
<path d="M637.4,265.4 C641.4,271.9 638.9,277.9 640.4,286.9" fill="none" stroke="#111" stroke-width="1.8"/>
<path d="M640.4,266.4 L651.4,268.4" fill="none" stroke="#111" stroke-width="1.8"/>
</g>
<g>
<path d="M1650,225.5 C1666.29,200.36 1706.11,200.36 1722.4,225.5 C1706.11,250.64 1666.29,250.64 1650,225.5 Z" fill="#fff" stroke="#111" stroke-width="2.5" stroke-linejoin="round"/>
<circle cx="1686.2" cy="225.5" r="16.3" fill="#857553" stroke="#111" stroke-width="2.3"/>
<circle cx="1686.2" cy="225.5" r="8.6" fill="#000" stroke="#1c1c1c" stroke-width="2"/>
<circle cx="1683.6" cy="221.4" r="2.3" fill="#fff"/>
</g>
<path d="M1647.9,265.1 L1660.1,265.1 L1682.7,268.1 L1721.9,275.9 C1722.5,276.1 1721.5,279.3 1719.7,281 C1718.9,281.8 1716.9,282 1714.9,282 L1672.9,281.8 C1667.9,283.3 1661.9,284.7 1657.4,284.1 C1653.9,283.7 1651.4,281.5 1647.9,281.5 L1647.9,281.5 Z" fill="#fde8da" stroke="#111" stroke-width="2" stroke-linejoin="round"/>
<path d="M1665.9,270.1 C1673.9,273.1 1683.9,272.6 1692.9,276.1" fill="none" stroke="#111" stroke-width="1.9" stroke-linecap="round"/>
<circle cx="1692.9" cy="278.5" r="3.1" fill="#fde8da" stroke="#111" stroke-width="1.8"/>
<path d="M600.58,785.08 A42.2,42.2 0 0 0 673.22,785.08 M636.9,805.8 L636.9,813.9 M628.27,804.91 L626.61,812.84 M645.53,804.91 L647.19,812.84 M619.47,802.03 L616.12,809.41 M654.33,802.03 L657.68,809.41 M611.92,797.61 L607.12,804.14 M661.88,797.61 L666.68,804.14 M605.94,792.27 L599.99,797.78 M667.86,792.27 L673.81,797.78 M600.58,785.08 L592.58,789.48 M673.22,785.08 L680.72,789.28" fill="none" stroke="#111" stroke-width="2.1" stroke-linecap="butt"/>
<g stroke-linejoin="round">
<ellipse cx="638.4" cy="834.3" rx="36.5" ry="12.2" fill="none" stroke="#111" stroke-width="2" stroke-dasharray="9 3.2 2.6 3.2"/>
<path d="M605.8,840.9 L625.8,841.9 L619.8,846.1 L616,855.9 Z" fill="#1a1a1a"/>
<path d="M631.6,838.9 C625.9,844.3 621.9,852.3 622.1,861.3 L622.2,873.1 L639.5,885.7 L657.2,872.5 L664.4,859.3 L658.4,848.3 L641.4,843.3 Z" fill="#fde8da" stroke="#111" stroke-width="2"/>
<path d="M640.2,843.3 L655,822.9 C656.6,820.5 660.8,821.7 660,825.7 L649,846.1 Z" fill="#fde8da" stroke="#111" stroke-width="2"/>
<path d="M644,856.3 L651,849.5" stroke="#111" stroke-width="7.6" stroke-linecap="round"/>
<path d="M644,856.3 L651,849.5" stroke="#fde8da" stroke-width="3.6" stroke-linecap="round"/>
<path d="M648.6,861.3 L655.8,853.9" stroke="#111" stroke-width="7.6" stroke-linecap="round"/>
<path d="M648.6,861.3 L655.8,853.9" stroke="#fde8da" stroke-width="3.6" stroke-linecap="round"/>
<path d="M653.8,864.9 L660.4,858.3" stroke="#111" stroke-width="7.6" stroke-linecap="round"/>
<path d="M653.8,864.9 L660.4,858.3" stroke="#fde8da" stroke-width="3.6" stroke-linecap="round"/>
<path d="M634.4,843.8 C638.4,850.3 635.9,856.3 637.4,865.3" fill="none" stroke="#111" stroke-width="1.8"/>
<path d="M637.4,844.8 L648.4,846.8" fill="none" stroke="#111" stroke-width="1.8"/>
</g>
<path d="M1644.98,790.28 A42.2,42.2 0 0 0 1717.62,790.28 M1681.3,811 L1681.3,819.1 M1672.67,810.11 L1671.01,818.04 M1689.93,810.11 L1691.59,818.04 M1663.87,807.23 L1660.52,814.61 M1698.73,807.23 L1702.08,814.61 M1656.32,802.81 L1651.52,809.34 M1706.28,802.81 L1711.08,809.34 M1650.34,797.47 L1644.39,802.98 M1712.26,797.47 L1718.21,802.98 M1644.98,790.28 L1636.98,794.68 M1717.62,790.28 L1725.12,794.48" fill="none" stroke="#111" stroke-width="2.1" stroke-linecap="butt"/>
<path d="M1645,835.2 L1657.2,835.2 L1679.8,838.2 L1719,846 C1719.6,846.2 1718.6,849.4 1716.8,851.1 C1716,851.9 1714,852.1 1712,852.1 L1670,851.9 C1665,853.4 1659,854.8 1654.5,854.2 C1651,853.8 1648.5,851.6 1645,851.6 L1645,851.6 Z" fill="#fde8da" stroke="#111" stroke-width="2" stroke-linejoin="round"/>
<path d="M1663,840.2 C1671,843.2 1681,842.7 1690,846.2" fill="none" stroke="#111" stroke-width="1.9" stroke-linecap="round"/>
<circle cx="1690" cy="848.6" r="3.1" fill="#fde8da" stroke="#111" stroke-width="1.8"/>
</svg></body></html>
